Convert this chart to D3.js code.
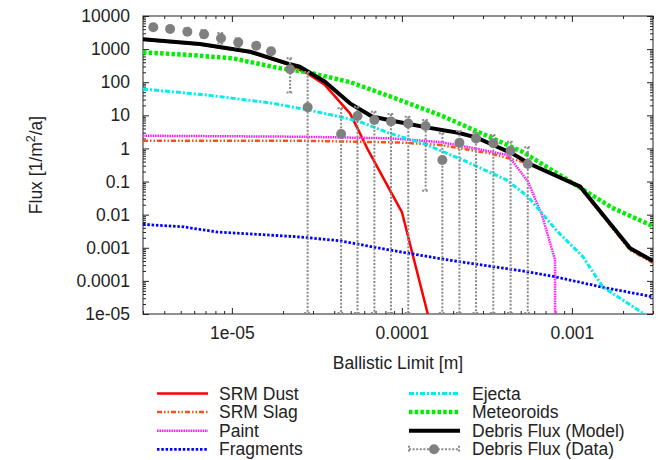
<!DOCTYPE html>
<html>
<head>
<meta charset="utf-8">
<script src="https://cdn.jsdelivr.net/npm/d3@7"></script>
<style>
  body { margin: 0; background: #fff; }
  svg { display: block; font-family: "Liberation Sans", Arial, sans-serif; }
</style>
</head>
<body>
<svg id="chart" width="660" height="460"></svg>
<script>
// tick labels
const xTicks = [1e-5, 1e-4, 1e-3];
const xTickLabels = ["1e-05", "0.0001", "0.001"];
const yTicks = [1e4, 1e3, 1e2, 1e1, 1, 1e-1, 1e-2, 1e-3, 1e-4, 1e-5];
const yTickLabels = ["10000", "1000", "100", "10", "1", "0.1", "0.01", "0.001", "0.0001", "1e-05"];

const seriesNames = ["SRM Dust", "SRM Slag", "Paint", "Fragments", "Ejecta", "Meteoroids",
  "Debris Flux (Model)", "Debris Flux (Data)"];

// model curves (ballistic limit [m], flux [1/m^2/a])
const srmDustX = [3e-6, 6.49e-6, 1.28e-5, 2.11e-5, 2.77e-5, 3.53e-5, 4.95e-5, 5.44e-5, 6.32e-5, 8.5e-5, 1.0e-4, 1.42e-4];
const srmDustY = [1910, 1377, 800, 355, 186, 82, 11.5, 4.4, 0.9, 0.055, 0.012, 1e-5];

const srmSlagX = [3e-6, 2.51e-5, 9.75e-5, 1.68e-4, 3.3e-4, 5.52e-4, 7.43e-4, 1.12e-3, 2.2e-3, 3e-3];
const srmSlagY = [1.71, 1.71, 1.51, 1.27, 0.71, 0.355, 0.194, 0.064, 0.00085, 0.00035];

const paintX = [3e-6, 2.51e-5, 8.5e-5, 1.68e-4, 2.62e-4, 4.2e-4, 5.52e-4, 6.67e-4, 7.96e-4, 7.96e-4];
const paintY = [2.42, 2.26, 2.02, 1.56, 1.03, 0.63, 0.099, 0.0097, 0.00043, 1e-6];

const fragmentsX = [3e-6, 5.16e-6, 8.18e-6, 2.42e-5, 4.32e-5, 8.5e-5, 1.92e-4, 5.45e-4, 7.96e-4, 1.52e-3, 3e-3];
const fragmentsY = [0.0051, 0.0043, 0.003, 0.00215, 0.00163, 0.00085, 0.00042, 0.00019, 0.000133, 6.4e-5, 3.3e-5];

const ejectaX = [3e-6, 7.14e-6, 1.75e-5, 3.17e-5, 5.44e-5, 8.5e-5, 1.33e-4, 2.29e-4, 4.15e-4, 5.52e-4, 8.17e-4, 1.16e-3, 1.52e-3, 2.62e-3, 3e-3];
const ejectaY = [62.4, 41, 23, 12.8, 6.9, 2.86, 1.43, 0.447, 0.11, 0.035, 0.0032, 0.00054, 6.6e-5, 1.05e-5, 7.5e-6];

const meteoroidsX = [3e-6, 5.67e-6, 1.01e-5, 1.92e-5, 2.77e-5, 4.95e-5, 9.75e-5, 1.68e-4, 3.3e-4, 5.15e-4, 1.01e-3, 1.74e-3, 3e-3];
const meteoroidsY = [800, 663, 527, 263, 203, 101, 29, 10.2, 2.2, 0.78, 0.09, 0.0158, 0.0045];

const modelX = [3e-6, 6.49e-6, 1.28e-5, 2.11e-5, 2.51e-5, 3.53e-5, 4.95e-5, 6.67e-5, 9.1e-5, 1.37e-4, 2.14e-4, 2.73e-4, 3.44e-4, 4.45e-4, 5.67e-4, 1.12e-3, 2.2e-3, 3e-3];
const modelY = [1980, 1425, 834, 372, 294, 104, 23, 9.2, 6.6, 4.4, 2.98, 2.16, 1.27, 0.71, 0.34, 0.07, 0.00096, 0.0004];

// measured debris flux with error bars (0 = lower bound off the axis)
const dataX = [3.45e-6, 4.33e-6, 5.47e-6, 6.86e-6, 8.63e-6, 1.09e-5, 1.39e-5, 1.70e-5, 2.20e-5, 2.79e-5, 4.39e-5,
  5.48e-5, 6.89e-5, 8.63e-5, 1.09e-4, 1.38e-4, 1.73e-4, 2.18e-4, 2.73e-4, 3.45e-4, 4.36e-4, 5.50e-4];
const dataY = [4560, 4040, 3360, 2800, 2120, 1600, 1267, 859, 245, 17.5, 2.72,
  9.5, 7.2, 6.5, 5.7, 4.75, 0.447, 1.49, 1.99, 1.43, 0.85, 0.34];
const dataHi = [5610, 4970, 4200, 3780, 3070, 2080, 1520, 1030, 527, 203, 16.3,
  18.2, 12.8, 11, 9.1, 7.2, 2.86, 3.36, 2.98, 2.54, 1.59, 1.08];
const dataLo = [3710, 3285, 2690, 2070, 1370, 1070, 1055, 715, 46, 0, 0,
  0, 0, 0, 0, 0.049, 0, 0, 0, 0, 0, 0];

const svg = d3.select("#chart");
const margin = { top: 16, right: 7, bottom: 146, left: 143 },
  width = 660 - margin.left - margin.right,
  height = 460 - margin.top - margin.bottom;

const x = d3.scaleLog().domain([3e-6, 3e-3]).range([0, width]);
const y = d3.scaleLog().domain([1e-5, 1e4]).range([height, 0]);

const g = svg.append("g").attr("transform", `translate(${margin.left},${margin.top})`);

g.append("defs").append("clipPath").attr("id", "plotClip")
  .append("rect").attr("width", width).attr("height", height);

const isMajor = (v) => Math.abs(Math.log10(v) - Math.round(Math.log10(v))) < 1e-6;
const xMinor = x.ticks().filter((v) => !isMajor(v));
const yMinor = y.ticks().filter((v) => !isMajor(v));

function styleAxis(sel) {
  sel.select(".domain").remove();
  sel.attr("font-family", null).attr("font-size", null);
  sel.selectAll("line").attr("stroke", "#222");
  sel.selectAll("text").attr("fill", "#222").style("font-size", "17.5px");
}

// bottom / left with labels, top / right mirrored
g.append("g").attr("transform", `translate(0,${height})`)
  .call(d3.axisBottom(x).tickValues(xTicks).tickFormat((d, i) => xTickLabels[i]).tickSize(-6).tickPadding(13))
  .call(styleAxis);
g.append("g").attr("transform", `translate(0,${height})`)
  .call(d3.axisBottom(x).tickValues(xMinor).tickFormat("").tickSize(-3)).call(styleAxis);
g.append("g").call(d3.axisTop(x).tickValues(xTicks).tickFormat("").tickSize(-6)).call(styleAxis);
g.append("g").call(d3.axisTop(x).tickValues(xMinor).tickFormat("").tickSize(-3)).call(styleAxis);

g.append("g")
  .call(d3.axisLeft(y).tickValues(yTicks).tickFormat((d, i) => yTickLabels[i]).tickSize(-6).tickPadding(13))
  .call(styleAxis);
g.append("g").call(d3.axisLeft(y).tickValues(yMinor).tickFormat("").tickSize(-3)).call(styleAxis);
g.append("g").attr("transform", `translate(${width},0)`)
  .call(d3.axisRight(y).tickValues(yTicks).tickFormat("").tickSize(-6)).call(styleAxis);
g.append("g").attr("transform", `translate(${width},0)`)
  .call(d3.axisRight(y).tickValues(yMinor).tickFormat("").tickSize(-3)).call(styleAxis);

g.append("rect")
  .attr("width", width)
  .attr("height", height)
  .attr("fill", "none")
  .attr("stroke", "#222")
  .attr("stroke-width", 1);

// axis titles
svg.append("text")
  .attr("x", margin.left + width / 2)
  .attr("y", 369)
  .attr("text-anchor", "middle")
  .attr("fill", "#222")
  .style("font-size", "17.5px")
  .text("Ballistic Limit [m]");

const yTitle = svg.append("text")
  .attr("transform", `translate(42,${margin.top + height / 2}) rotate(-90)`)
  .attr("text-anchor", "middle")
  .attr("fill", "#222")
  .style("font-size", "17.5px");
yTitle.append("tspan").text("Flux [1/m");
yTitle.append("tspan").attr("dy", -7).style("font-size", "12.5px").text("2");
yTitle.append("tspan").attr("dy", 7).text("/a]");

const series = [
  { xs: srmDustX, ys: srmDustY, color: "#ff0000", width: 2.5, dash: null },
  { xs: srmSlagX, ys: srmSlagY, color: "#ff5014", width: 2.5, dash: "5,2,1.5,2,1.5,2" },
  { xs: paintX, ys: paintY, color: "#ff22ff", width: 2.5, dash: "1.6,0.8" },
  { xs: fragmentsX, ys: fragmentsY, color: "#0000ff", width: 2.8, dash: "2.5,1.8" },
  { xs: ejectaX, ys: ejectaY, color: "#00eeee", width: 3, dash: "5,2,2,2" },
  { xs: meteoroidsX, ys: meteoroidsY, color: "#00ee00", width: 4.5, dash: "3.5,2.2" },
  { xs: modelX, ys: modelY, color: "#000000", width: 4, dash: null }
];

const line = d3.line().x((d) => x(d[0])).y((d) => y(d[1]));

const plot = g.append("g").attr("clip-path", "url(#plotClip)");
series.forEach((s) => {
  plot.append("path")
    .datum(s.xs.map((v, i) => [v, s.ys[i]]))
    .attr("fill", "none")
    .attr("stroke", s.color)
    .attr("stroke-width", s.width)
    .attr("stroke-dasharray", s.dash)
    .attr("stroke-linejoin", "round")
    .attr("d", line);
});

// data with error bars
const debris = dataX.map((v, i) => ({ x: v, y: dataY[i], hi: dataHi[i], lo: dataLo[i] }));
const yc = (v) => (v > 1e-5 ? y(v) : height);
const errColor = "#8a8a8a";

const bars = g.append("g")
  .attr("stroke", errColor)
  .attr("stroke-width", 2)
  .attr("stroke-dasharray", "2,1.6");
bars.selectAll("line.bar").data(debris).enter().append("line")
  .attr("class", "bar")
  .attr("x1", (d) => x(d.x)).attr("x2", (d) => x(d.x))
  .attr("y1", (d) => yc(d.hi)).attr("y2", (d) => yc(d.lo));
bars.selectAll("line.capHi").data(debris).enter().append("line")
  .attr("class", "capHi")
  .attr("x1", (d) => x(d.x) - 3.5).attr("x2", (d) => x(d.x) + 3.5)
  .attr("y1", (d) => yc(d.hi)).attr("y2", (d) => yc(d.hi));
bars.selectAll("line.capLo").data(debris).enter().append("line")
  .attr("class", "capLo")
  .attr("x1", (d) => x(d.x) - 3.5).attr("x2", (d) => x(d.x) + 3.5)
  .attr("y1", (d) => yc(d.lo) - 1).attr("y2", (d) => yc(d.lo) - 1);

g.append("g").selectAll("circle").data(debris).enter().append("circle")
  .attr("cx", (d) => x(d.x))
  .attr("cy", (d) => y(d.y))
  .attr("r", 5)
  .attr("fill", "#808080");

// legend, two columns of four
const legend = svg.append("g");
seriesNames.forEach((name, i) => {
  const col = Math.floor(i / 4), row = i % 4;
  const lx = col === 0 ? 157 : 409;
  const ly = 393.5 + row * 18.6;
  const item = legend.append("g").attr("transform", `translate(${lx},${ly})`);
  if (i < series.length) {
    const s = series[i];
    item.append("line")
      .attr("x1", 0).attr("x2", 51)
      .attr("stroke", s.color)
      .attr("stroke-width", s.width)
      .attr("stroke-dasharray", s.dash);
  } else {
    item.append("line").attr("x1", 0).attr("x2", 50)
      .attr("stroke", errColor).attr("stroke-width", 2).attr("stroke-dasharray", "2,1.6");
    [0, 50].forEach((cx) => {
      item.append("line").attr("x1", cx).attr("x2", cx).attr("y1", -3.5).attr("y2", 3.5)
        .attr("stroke", errColor).attr("stroke-width", 2).attr("stroke-dasharray", "2,1.6");
    });
    item.append("circle").attr("cx", 25).attr("r", 5).attr("fill", "#808080");
  }
  item.append("text")
    .attr("x", col === 0 ? 62 : 63)
    .attr("dy", "0.35em")
    .attr("fill", "#222")
    .style("font-size", "17.5px")
    .text(name);
});
</script>
</body>
</html>
